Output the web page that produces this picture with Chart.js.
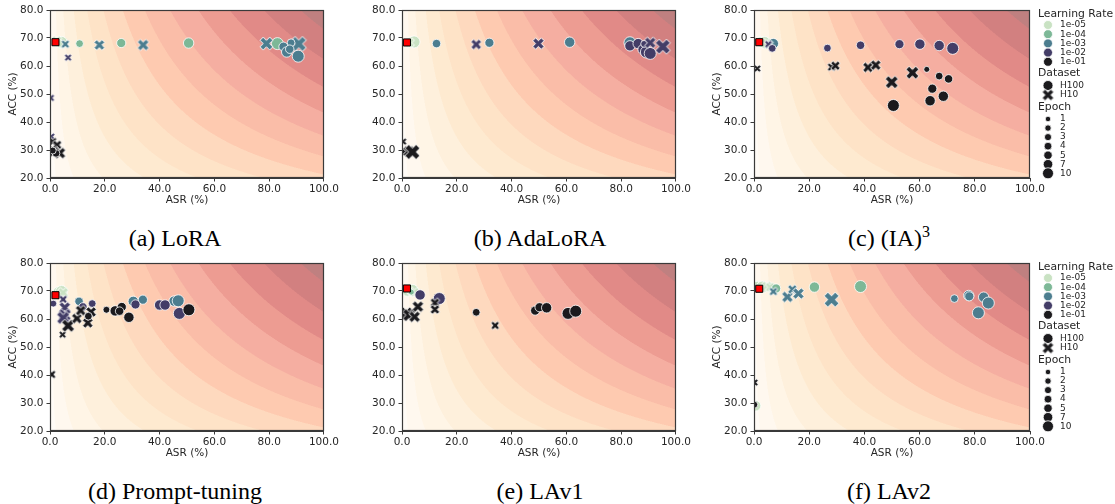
<!DOCTYPE html>
<html>
<head>
<meta charset="utf-8">
<script src="https://cdn.jsdelivr.net/npm/chart.js@4.4.1/dist/chart.umd.min.js"></script>
<style>
  body { margin: 0; background: #fff; width: 1115px; height: 504px; position: relative; overflow: hidden; }
  canvas { position: absolute; }
  .cap { position: absolute; width: 300px; text-align: center; font-family: "Liberation Serif", "Times New Roman", serif;
         font-size: 24px; line-height: 26px; color: #000; white-space: nowrap; }
  .cap sup { font-size: 16px; line-height: 0; }
</style>
</head>
<body>
<script>
// ---- data ----
const learningRates = ['1e-05', '1e-04', '1e-03', '1e-02', '1e-01'];
const lrColors = ['#c9e2c3', '#7db897', '#4c7d8f', '#433d67', '#1b1a1d'];
const datasetNames = ['H100', 'H10'];
const epochs = [1, 2, 3, 4, 5, 7, 10];
const xTicks = [0, 20, 40, 60, 80, 100];
const yTicks = [20, 30, 40, 50, 60, 70, 80];
// background score = sqrt(ASR * ACC), band edges
const scoreLevels = [6.6, 13.2, 19.7, 26.3, 32.9, 39.5, 46.1, 52.6, 59.2, 65.8, 72.4, 79.0, 85.5];

// [ASR, ACC, learning rate, dataset, epoch]
const loraPoints = [
  [3.0, 68.6, '1e-05', 'H100', 7], [4.2, 68.4, '1e-05', 'H100', 10], [2.4, 68.9, '1e-05', 'H10', 4], [3.6, 68.0, '1e-05', 'H100', 3],
  [10.8, 68.0, '1e-04', 'H100', 3], [26.0, 68.2, '1e-04', 'H100', 5], [50.6, 68.2, '1e-04', 'H100', 7], [83.0, 68.0, '1e-04', 'H100', 10],
  [5.6, 67.8, '1e-03', 'H10', 2], [18.0, 67.5, '1e-03', 'H10', 4], [34.0, 67.5, '1e-03', 'H10', 5], [79.0, 68.0, '1e-03', 'H10', 7],
  [90.8, 67.9, '1e-03', 'H10', 10], [85.2, 66.9, '1e-03', 'H100', 5], [86.4, 65.0, '1e-03', 'H100', 7], [88.0, 68.3, '1e-03', 'H100', 3],
  [87.5, 66.0, '1e-03', 'H100', 4], [90.6, 63.5, '1e-03', 'H100', 10],
  [6.6, 63.0, '1e-02', 'H10', 1], [0.3, 48.6, '1e-02', 'H10', 1], [0.5, 34.8, '1e-02', 'H10', 1], [0.2, 29.3, '1e-02', 'H100', 1],
  [1.0, 33.0, '1e-01', 'H10', 2], [2.6, 31.8, '1e-01', 'H10', 3], [1.4, 29.5, '1e-01', 'H10', 4], [3.6, 28.9, '1e-01', 'H10', 5],
  [2.2, 28.8, '1e-01', 'H100', 3], [1.0, 29.8, '1e-01', 'H100', 2]
];
const adaloraPoints = [
  [3.4, 68.5, '1e-05', 'H100', 7], [4.4, 68.6, '1e-05', 'H100', 10], [2.8, 68.3, '1e-05', 'H10', 3], [1.5, 29.3, '1e-05', 'H100', 5],
  [12.6, 68.0, '1e-03', 'H100', 4], [31.9, 68.3, '1e-03', 'H100', 5], [61.2, 68.5, '1e-03', 'H100', 7], [83.2, 68.3, '1e-03', 'H100', 10],
  [27.1, 67.7, '1e-02', 'H10', 4], [49.8, 68.0, '1e-02', 'H10', 5], [83.2, 67.2, '1e-02', 'H100', 7], [86.2, 68.0, '1e-02', 'H100', 7],
  [88.0, 65.9, '1e-02', 'H100', 7], [89.2, 65.0, '1e-02', 'H100', 10], [90.6, 64.5, '1e-02', 'H100', 10], [88.4, 67.9, '1e-02', 'H100', 2],
  [90.6, 68.3, '1e-02', 'H10', 5], [95.2, 66.9, '1e-02', 'H10', 10],
  [0.4, 33.0, '1e-01', 'H10', 1], [0.4, 29.3, '1e-01', 'H100', 2], [2.5, 29.5, '1e-01', 'H10', 5], [3.8, 29.3, '1e-01', 'H10', 10]
];
const ia3Points = [
  [2.5, 68.6, '1e-05', 'H100', 7], [3.8, 68.4, '1e-05', 'H100', 10], [4.6, 68.0, '1e-05', 'H10', 4],
  [7.0, 68.0, '1e-03', 'H100', 7], [5.5, 67.6, '1e-03', 'H10', 2],
  [5.2, 67.8, '1e-02', 'H10', 1], [6.6, 66.3, '1e-02', 'H100', 3], [26.6, 66.4, '1e-02', 'H100', 3], [38.6, 67.4, '1e-02', 'H100', 4],
  [52.7, 67.8, '1e-02', 'H100', 5], [60.1, 67.8, '1e-02', 'H100', 7], [67.1, 67.3, '1e-02', 'H100', 7], [72.0, 66.3, '1e-02', 'H100', 10],
  [1.2, 59.1, '1e-01', 'H10', 1], [28.1, 59.6, '1e-01', 'H10', 2], [29.5, 60.1, '1e-01', 'H10', 3], [41.3, 59.5, '1e-01', 'H10', 4],
  [44.1, 60.3, '1e-01', 'H10', 4], [49.9, 54.2, '1e-01', 'H10', 7], [57.4, 57.6, '1e-01', 'H10', 7],
  [62.6, 58.8, '1e-01', 'H100', 1], [67.1, 56.4, '1e-01', 'H100', 3], [70.5, 55.4, '1e-01', 'H100', 4], [64.6, 51.9, '1e-01', 'H100', 5],
  [63.8, 47.6, '1e-01', 'H100', 7], [68.6, 49.2, '1e-01', 'H100', 7], [50.5, 45.9, '1e-01', 'H100', 10]
];
const promptPoints = [
  [3.0, 69.6, '1e-05', 'H100', 7], [4.2, 69.8, '1e-05', 'H100', 10], [4.8, 69.4, '1e-05', 'H10', 4],
  [10.6, 66.3, '1e-03', 'H100', 4], [30.4, 66.3, '1e-03', 'H100', 7], [33.9, 66.9, '1e-03', 'H100', 5], [45.3, 66.4, '1e-03', 'H100', 7],
  [46.8, 66.5, '1e-03', 'H100', 10],
  [1.2, 65.5, '1e-02', 'H100', 2], [4.8, 67.0, '1e-02', 'H10', 2], [5.4, 64.1, '1e-02', 'H10', 5], [5.4, 61.4, '1e-02', 'H10', 7],
  [4.8, 60.4, '1e-02', 'H10', 7], [12.0, 64.3, '1e-02', 'H100', 4], [15.4, 65.5, '1e-02', 'H100', 3], [31.2, 65.2, '1e-02', 'H100', 5],
  [40.0, 65.0, '1e-02', 'H100', 7], [42.0, 65.0, '1e-02', 'H100', 7], [47.2, 62.0, '1e-02', 'H100', 10],
  [4.6, 54.4, '1e-01', 'H10', 1], [6.6, 57.6, '1e-01', 'H10', 7], [9.8, 60.2, '1e-01', 'H10', 4], [11.2, 63.0, '1e-01', 'H10', 4],
  [13.8, 58.6, '1e-01', 'H10', 4], [15.0, 62.5, '1e-01', 'H10', 4], [14.0, 61.0, '1e-01', 'H100', 3], [0.6, 40.2, '1e-01', 'H10', 2],
  [20.6, 63.3, '1e-01', 'H100', 2], [23.8, 62.9, '1e-01', 'H100', 7], [26.2, 64.3, '1e-01', 'H100', 5], [25.4, 62.8, '1e-01', 'H100', 4],
  [28.8, 60.6, '1e-01', 'H100', 7], [50.7, 63.3, '1e-01', 'H100', 10]
];
const lav1Points = [
  [2.0, 70.0, '1e-05', 'H100', 7], [3.8, 70.2, '1e-05', 'H100', 10], [4.6, 69.6, '1e-05', 'H10', 3],
  [3.4, 69.6, '1e-04', 'H100', 1],
  [6.6, 68.6, '1e-02', 'H100', 7], [13.6, 67.3, '1e-02', 'H100', 10],
  [1.6, 62.0, '1e-01', 'H10', 7], [2.6, 61.4, '1e-01', 'H10', 7], [4.6, 60.8, '1e-01', 'H10', 5], [5.8, 64.4, '1e-01', 'H10', 5],
  [12.0, 65.8, '1e-01', 'H10', 3], [12.0, 63.4, '1e-01', 'H10', 3], [34.0, 57.7, '1e-01', 'H10', 2],
  [27.1, 62.4, '1e-01', 'H100', 3], [48.6, 63.0, '1e-01', 'H100', 5], [50.2, 64.2, '1e-01', 'H100', 5], [52.8, 64.0, '1e-01', 'H100', 7],
  [60.6, 62.0, '1e-01', 'H100', 10], [63.4, 62.8, '1e-01', 'H100', 10]
];
const lav2Points = [
  [1.2, 71.6, '1e-05', 'H100', 7], [3.0, 71.4, '1e-05', 'H100', 10], [4.6, 71.6, '1e-05', 'H10', 4], [5.8, 71.4, '1e-05', 'H10', 3],
  [0.6, 29.0, '1e-05', 'H100', 7],
  [8.0, 70.9, '1e-04', 'H100', 5], [21.9, 71.4, '1e-04', 'H100', 7], [38.6, 71.6, '1e-04', 'H100', 10],
  [7.0, 69.8, '1e-03', 'H10', 2], [12.1, 67.9, '1e-03', 'H10', 5], [13.9, 70.6, '1e-03', 'H10', 3], [16.1, 69.1, '1e-03', 'H10', 5],
  [28.1, 66.9, '1e-03', 'H10', 10], [72.6, 67.3, '1e-03', 'H100', 3], [77.8, 68.4, '1e-03', 'H100', 7], [78.0, 68.1, '1e-03', 'H100', 5],
  [83.2, 67.8, '1e-03', 'H100', 7], [84.9, 65.7, '1e-03', 'H100', 10], [81.3, 62.2, '1e-03', 'H100', 10],
  [0.2, 37.3, '1e-01', 'H10', 1], [0.1, 29.4, '1e-01', 'H100', 2]
];
// reference model (red square), one per panel
const baselines = [[2.0, 68.5], [1.8, 68.4], [1.9, 68.5], [2.0, 68.5], [1.8, 70.9], [1.9, 70.8]];
const captions = ['(a) LoRA', '(b) AdaLoRA', '(c) (IA)<sup>3</sup>', '(d) Prompt-tuning', '(e) LAv1', '(f) LAv2'];

// ---- helpers ----
const FONT = 'DejaVu Sans';
const orRd = [[255,247,236],[254,232,200],[253,212,158],[253,187,132],[252,141,89],[239,101,72],[215,48,31],[179,0,0],[127,0,0]];
function bandColor(t) {
  const p = t * (orRd.length - 1), i = Math.min(Math.floor(p), orRd.length - 2), f = p - i;
  return orRd[i].map((c, k) => Math.round(((c + (orRd[i + 1][k] - c) * f) + 255) / 2));
}
const bandColors = [];
for (let k = 0; k <= scoreLevels.length; k++) bandColors.push(bandColor(Math.pow(k / scoreLevels.length, 1.2)));

function lrColor(lr) { return lrColors[learningRates.indexOf(lr)]; }
function radius(ep) { const a = 3.0, b = 6.0; return Math.sqrt(a * a + (ep - 1) / 9 * (b * b - a * a)); }

const glyphCache = {};
function xGlyph(r, color, edge) {
  const key = r.toFixed(2) + color + edge;
  if (glyphCache[key]) return glyphCache[key];
  const s = Math.ceil(r * 2.8 + 4);
  const c = document.createElement('canvas');
  c.width = c.height = s;
  const g = c.getContext('2d');
  g.translate(s / 2, s / 2);
  g.rotate(Math.PI / 4);
  const a = r * 1.32, w = r * 0.44;
  g.beginPath();
  g.moveTo(-w, -a); g.lineTo(w, -a); g.lineTo(w, -w); g.lineTo(a, -w); g.lineTo(a, w); g.lineTo(w, w);
  g.lineTo(w, a); g.lineTo(-w, a); g.lineTo(-w, w); g.lineTo(-a, w); g.lineTo(-a, -w); g.lineTo(-w, -w);
  g.closePath();
  g.fillStyle = color; g.fill();
  if (edge) { g.strokeStyle = '#fff'; g.lineWidth = 0.9; g.stroke(); }
  glyphCache[key] = c;
  return c;
}

const contourPlugin = {
  id: 'contour',
  beforeDatasetsDraw(chart) {
    const { ctx, chartArea: ca, scales: { x, y } } = chart;
    const w = Math.round(ca.right - ca.left), h = Math.round(ca.bottom - ca.top);
    const off = document.createElement('canvas');
    off.width = w; off.height = h;
    const g = off.getContext('2d');
    const img = g.createImageData(w, h);
    const band = (px, py) => {
      const v = Math.sqrt(Math.max(x.getValueForPixel(px), 0) * y.getValueForPixel(py));
      let k = 0;
      while (k < scoreLevels.length && v >= scoreLevels[k]) k++;
      return k;
    };
    for (let j = 0; j < h; j++) {
      for (let i = 0; i < w; i++) {
        // 2x2 supersampling for smoother band edges
        let r = 0, gg = 0, b = 0;
        for (const [dx, dy] of [[0.25, 0.25], [0.75, 0.25], [0.25, 0.75], [0.75, 0.75]]) {
          const c = bandColors[band(ca.left + i + dx, ca.top + j + dy)];
          r += c[0]; gg += c[1]; b += c[2];
        }
        const o = (j * w + i) * 4;
        img.data[o] = r / 4; img.data[o + 1] = gg / 4; img.data[o + 2] = b / 4; img.data[o + 3] = 255;
      }
    }
    g.putImageData(img, 0, 0);
    ctx.drawImage(off, ca.left, ca.top);
  }
};

const framePlugin = {
  id: 'frame',
  afterDraw(chart) {
    const { ctx, chartArea: ca } = chart;
    ctx.save();
    ctx.strokeStyle = '#3a3a3a';
    ctx.lineWidth = 1.2;
    ctx.strokeRect(Math.round(ca.left) + 0.5, Math.round(ca.top) + 0.5, Math.round(ca.right - ca.left) - 1, Math.round(ca.bottom - ca.top) - 1);
    ctx.restore();
  }
};

const legendPlugin = {
  id: 'sideLegend',
  afterDraw(chart) {
    const ctx = chart.ctx;
    const tx = 334, mx = 344, lx = 356;
    ctx.save();
    ctx.textBaseline = 'middle';
    const title = (t, yy) => { ctx.font = '10.8px "' + FONT + '"'; ctx.fillStyle = '#262626'; ctx.fillText(t, tx, yy); };
    const label = (t, yy) => { ctx.font = '9px "' + FONT + '"'; ctx.fillStyle = '#262626'; ctx.fillText(t, lx, yy); };
    const dot = (yy, r, col) => {
      ctx.beginPath(); ctx.arc(mx, yy, r, 0, Math.PI * 2); ctx.fillStyle = col; ctx.fill();
      ctx.strokeStyle = '#fff'; ctx.lineWidth = 0.8; ctx.stroke();
    };
    title('Learning Rate', 14);
    learningRates.forEach((lr, i) => { const yy = 25 + i * 9.2; dot(yy, 4.5, lrColors[i]); label(lr, yy); });
    title('Dataset', 73.5);
    dot(85.5, 5.0, '#1b1a1d'); label(datasetNames[0], 85.5);
    const gx = xGlyph(4.6, '#1b1a1d', true);
    ctx.drawImage(gx, mx - gx.width / 2, 95 - gx.height / 2);
    label(datasetNames[1], 95);
    title('Epoch', 107);
    epochs.forEach((e, i) => { const yy = 119 + i * 9.05; dot(yy, radius(e) * 0.92, '#1b1a1d'); label(String(e), yy); });
    ctx.restore();
  }
};

const panels = [
  { pts: loraPoints,    left: 0,   top: 0,   w: 340, yTitle: true,  legend: false, capX: 175 },
  { pts: adaloraPoints, left: 352, top: 0,   w: 340, yTitle: false, legend: false, capX: 540 },
  { pts: ia3Points,     left: 704, top: 0,   w: 411, yTitle: true,  legend: true,  capX: 889 },
  { pts: promptPoints,  left: 0,   top: 253, w: 340, yTitle: true,  legend: false, capX: 175 },
  { pts: lav1Points,    left: 352, top: 253, w: 340, yTitle: false, legend: false, capX: 540 },
  { pts: lav2Points,    left: 704, top: 253, w: 411, yTitle: true,  legend: true,  capX: 889 }
];
const plotW = [278, 278, 276, 278, 278, 276];

panels.forEach((p, n) => {
  const cv = document.createElement('canvas');
  cv.width = p.w; cv.height = 210;
  cv.style.left = p.left + 'px'; cv.style.top = p.top + 'px';
  document.body.appendChild(cv);

  const cap = document.createElement('div');
  cap.className = 'cap';
  cap.innerHTML = captions[n];
  cap.style.left = (p.capX - 150) + 'px';
  cap.style.top = (p.top + 225) + 'px';
  document.body.appendChild(cap);

  const tickFont = { family: FONT, size: 10.5 };
  new Chart(cv, {
    type: 'scatter',
    data: {
      datasets: [{
        data: [{ x: baselines[n][0], y: baselines[n][1] }],
        pointStyle: 'rect',
        pointRadius: 5,
        backgroundColor: '#ff0000',
        borderColor: '#000000',
        borderWidth: 1,
        clip: 0
      }, {
        data: p.pts.map(d => ({ x: d[0], y: d[1], lr: d[2], set: d[3], ep: d[4] })),
        pointStyle: c => c.raw && c.raw.set === 'H10' ? xGlyph(radius(c.raw.ep), lrColor(c.raw.lr), true) : 'circle',
        pointRadius: c => c.raw ? radius(c.raw.ep) : 3,
        backgroundColor: c => c.raw ? lrColor(c.raw.lr) : '#000',
        borderColor: '#ffffff',
        borderWidth: 0.8,
        clip: 0
      }]
    },
    options: {
      responsive: false,
      animation: false,
      events: [],
      layout: { autoPadding: false, padding: { left: 0, top: 10, right: p.w - 50 - plotW[n], bottom: 0 } },
      plugins: { legend: { display: false }, tooltip: { enabled: false } },
      scales: {
        x: {
          type: 'linear', min: 0, max: 100,
          afterFit: s => { s.height = 32; },
          afterBuildTicks: s => { s.ticks = xTicks.map(v => ({ value: v })); },
          ticks: { font: tickFont, color: '#262626', padding: 1, maxRotation: 0, autoSkip: false, callback: v => v.toFixed(1) },
          grid: { drawOnChartArea: false, drawTicks: true, tickLength: 3.5, color: '#3a3a3a' },
          border: { display: true, color: '#3a3a3a' },
          title: { display: true, text: 'ASR (%)', font: tickFont, color: '#262626', padding: { top: 0, bottom: 3 } }
        },
        y: {
          type: 'linear', min: 20, max: 80,
          afterFit: s => { s.width = 50; },
          afterBuildTicks: s => { s.ticks = yTicks.map(v => ({ value: v })); },
          ticks: { font: tickFont, color: '#262626', padding: 3, autoSkip: false, callback: v => v.toFixed(1) },
          grid: { drawOnChartArea: false, drawTicks: true, tickLength: 3.5, color: '#3a3a3a' },
          border: { display: true, color: '#3a3a3a' },
          title: { display: p.yTitle, text: 'ACC (%)', font: tickFont, color: '#262626', padding: { top: 7, bottom: 0 } }
        }
      }
    },
    plugins: p.legend ? [contourPlugin, framePlugin, legendPlugin] : [contourPlugin, framePlugin]
  });
});
</script>
</body>
</html>
